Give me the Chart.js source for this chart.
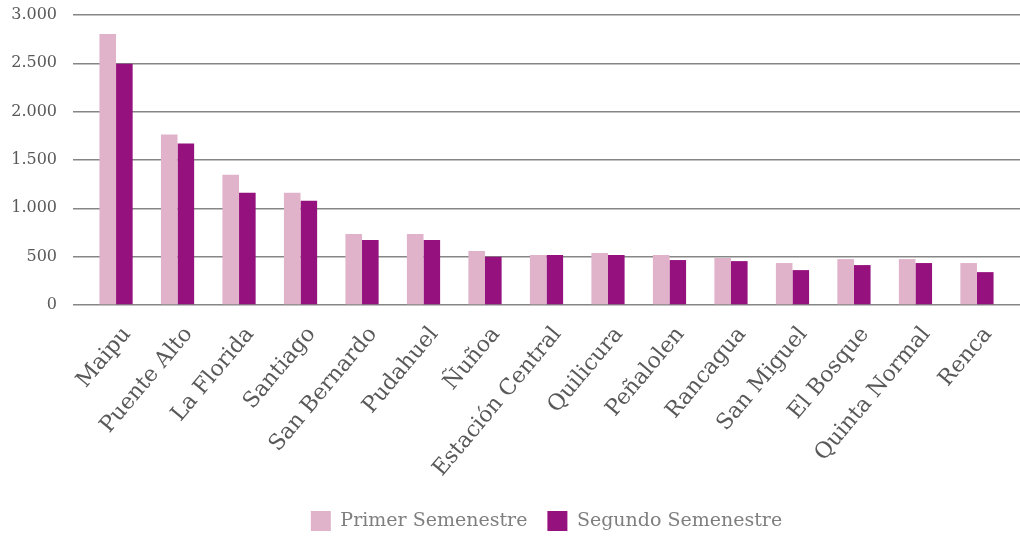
<!DOCTYPE html>
<html>
<head>
<meta charset="utf-8">
<script src="https://cdn.jsdelivr.net/npm/chart.js@4.4.1/dist/chart.umd.min.js"></script>
<style>
  html, body { margin: 0; padding: 0; background: #ffffff; }
  #wrap { width: 1020px; height: 536px; position: relative; }
</style>
</head>
<body>
<div id="wrap"><canvas id="c"></canvas></div>
<script>
const categories = ["Maipu", "Puente Alto", "La Florida", "Santiago", "San Bernardo", "Pudahuel", "Ñuñoa", "Estación Central", "Quilicura", "Peñalolen", "Rancagua", "San Miguel", "El Bosque", "Quinta Normal", "Renca"];
const primerSemestre = [2803, 1764, 1348, 1161, 735, 735, 558, 517, 537, 517, 486, 434, 475, 475, 434];
const segundoSemestre = [2495, 1670, 1161, 1078, 672, 672, 499, 517, 517, 465, 454, 361, 413, 434, 340];
const seriesNames = ["Primer Semenestre", "Segundo Semenestre"];
const yTicks = [0, 500, 1000, 1500, 2000, 2500, 3000];

const toPoints = arr => arr.map((v, i) => ({ x: i, y: v }));
const fmt = v => v.toLocaleString('de-DE');

new Chart(document.getElementById('c'), {
  type: 'bar',
  data: {
    datasets: [
      { label: seriesNames[0], data: toPoints(primerSemestre), backgroundColor: '#E0B3CB', borderWidth: 0 },
      { label: seriesNames[1], data: toPoints(segundoSemestre), backgroundColor: '#95117D', borderWidth: 0 }
    ]
  },
  options: {
    responsive: true,
    maintainAspectRatio: false,
    animation: false,
    layout: { padding: { top: 15, right: 0, bottom: -5, left: 0 } },
    datasets: { bar: { categoryPercentage: 0.54, barPercentage: 1.0 } },
    plugins: {
      tooltip: { enabled: false },
      legend: {
        position: 'bottom',
        fullSize: false,
        labels: {
          boxWidth: 20, boxHeight: 20, padding: 20,
          color: '#7F7F7F',
          font: { family: 'DejaVu Serif', size: 19 }
        }
      }
    },
    scales: {
      x: {
        type: 'linear',
        offset: false,
        min: -0.7,
        max: 14.7,
        grid: { display: false },
        border: { display: false },
        afterBuildTicks: s => { s.ticks = categories.map((_, i) => ({ value: i })); },
        afterFit: s => { s.height = 186; s.paddingLeft = 0; s.paddingRight = 0; },
        ticks: {
          autoSkip: false,
          minRotation: 50,
          maxRotation: 50,
          padding: 9,
          labelOffset: 11,
          color: '#595959',
          font: { family: 'DejaVu Serif', size: 22 },
          callback: v => categories[v] ?? ''
        }
      },
      y: {
        min: 0,
        max: 3000,
        afterBuildTicks: s => { s.ticks = yTicks.map(v => ({ value: v })); },
        afterFit: s => { s.width = 73; s.paddingTop = 0; s.paddingBottom = 0; },
        grid: { color: '#868686', lineWidth: 1.5, drawTicks: false },
        border: { display: false },
        ticks: {
          padding: 16,
          color: '#595959',
          font: { family: 'DejaVu Serif', size: 16 },
          callback: v => fmt(v)
        }
      }
    }
  }
});
</script>
</body>
</html>
